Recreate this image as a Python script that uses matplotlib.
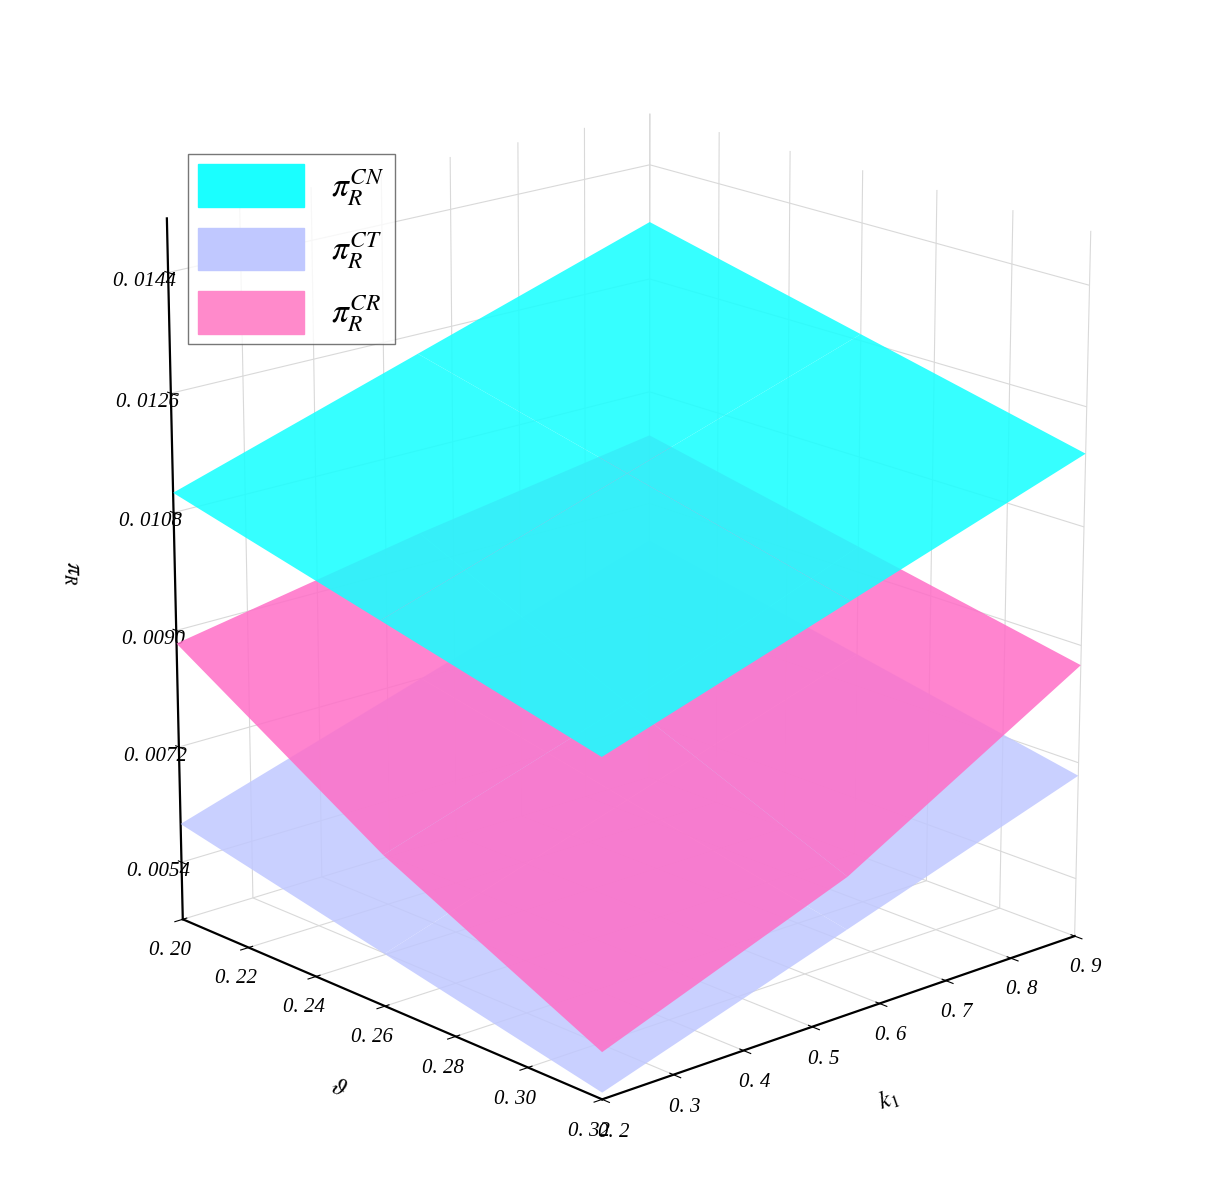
import numpy as np
import matplotlib.pyplot as plt
from matplotlib.patches import Patch

plt.rcParams['font.family'] = ['Liberation Serif', 'DejaVu Serif']
plt.rcParams['mathtext.fontset'] = 'stix'

theta = [0.20, 0.26, 0.32]
k1 = [0.2, 0.55, 0.9]
# rows: theta, cols: k1
pi_cn = [[0.0111, 0.0123, 0.0135],
         [0.0103, 0.0115, 0.0127],
         [0.0095, 0.0107, 0.0119]]
pi_ct = [[0.0060, 0.0072, 0.0084],
         [0.0053, 0.0065, 0.0077],
         [0.0046, 0.0058, 0.0070]]
pi_cr = [[0.0088, 0.0095, 0.0101],
         [0.0068, 0.0080, 0.0094],
         [0.0052, 0.0066, 0.0087]]

X, K = np.meshgrid(theta, k1, indexing='ij')

fig = plt.figure(figsize=(12.22, 11.97), dpi=100)
ax = fig.add_axes([0.0, 0.0, 1.0, 1.0], projection='3d')
ax.plot_surface(X, K, np.array(pi_ct), color='#c0c8ff', alpha=0.85, shade=False, linewidth=0)
ax.plot_surface(X, K, np.array(pi_cr), color='#ff6ec7', alpha=0.85, shade=False, linewidth=0)
ax.plot_surface(X, K, np.array(pi_cn), color='#1affff', alpha=0.88, shade=False, linewidth=0)

ax.set_xlim(0.20, 0.32)
ax.set_ylim(0.2, 0.9)
ax.set_zlim(0.0045, 0.0152)
ax.set_xticks([0.20, 0.22, 0.24, 0.26, 0.28, 0.30, 0.32])
ax.set_xticklabels(['0. 20', '0. 22', '0. 24', '0. 26', '0. 28', '0. 30', '0. 32'])
ax.set_yticks([0.2, 0.3, 0.4, 0.5, 0.6, 0.7, 0.8, 0.9])
ax.set_yticklabels(['0. 2', '0. 3', '0. 4', '0. 5', '0. 6', '0. 7', '0. 8', '0. 9'])
ax.set_zticks([0.0054, 0.0072, 0.0090, 0.0108, 0.0126, 0.0144])
ax.set_zticklabels(['0. 0054', '0. 0072', '0. 0090', '0. 0108', '0. 0126', '0. 0144'])
for lab in ax.get_xticklabels() + ax.get_yticklabels() + ax.get_zticklabels():
    lab.set_fontstyle('italic')
    lab.set_fontsize(15)
ax.set_xlabel(r'$\vartheta$', fontsize=18, labelpad=22)
ax.set_ylabel(r'$k_1$', fontsize=18, labelpad=22)
ax.set_zlabel(r'$\pi_R$', fontsize=18, labelpad=30)

# put the z axis on the left side
ax.zaxis._axinfo['juggled'] = (1, 2, 0)

for a in (ax.xaxis, ax.yaxis, ax.zaxis):
    a.set_pane_color((1, 1, 1, 0))
    a._axinfo['grid']['color'] = (0.85, 0.85, 0.85, 1)
    a._axinfo['grid']['linewidth'] = 0.8
    a.line.set_linewidth(1.6)
ax.view_init(elev=18, azim=-42)
ax.set_box_aspect((1, 1, 1.15), zoom=0.95)

handles = [Patch(color='#1affff', label=r'$\pi_R^{CN}$'),
           Patch(color='#c0c8ff', label=r'$\pi_R^{CT}$'),
           Patch(color='#ff8acb', label=r'$\pi_R^{CR}$')]
fig.legend(handles=handles, loc='upper left', bbox_to_anchor=(0.14, 0.885),
           fontsize=24, handlelength=3.2, handleheight=1.6, fancybox=False,
           edgecolor='#555555', labelspacing=0.6, borderpad=0.3)

fig.savefig('out.png', dpi=100)
